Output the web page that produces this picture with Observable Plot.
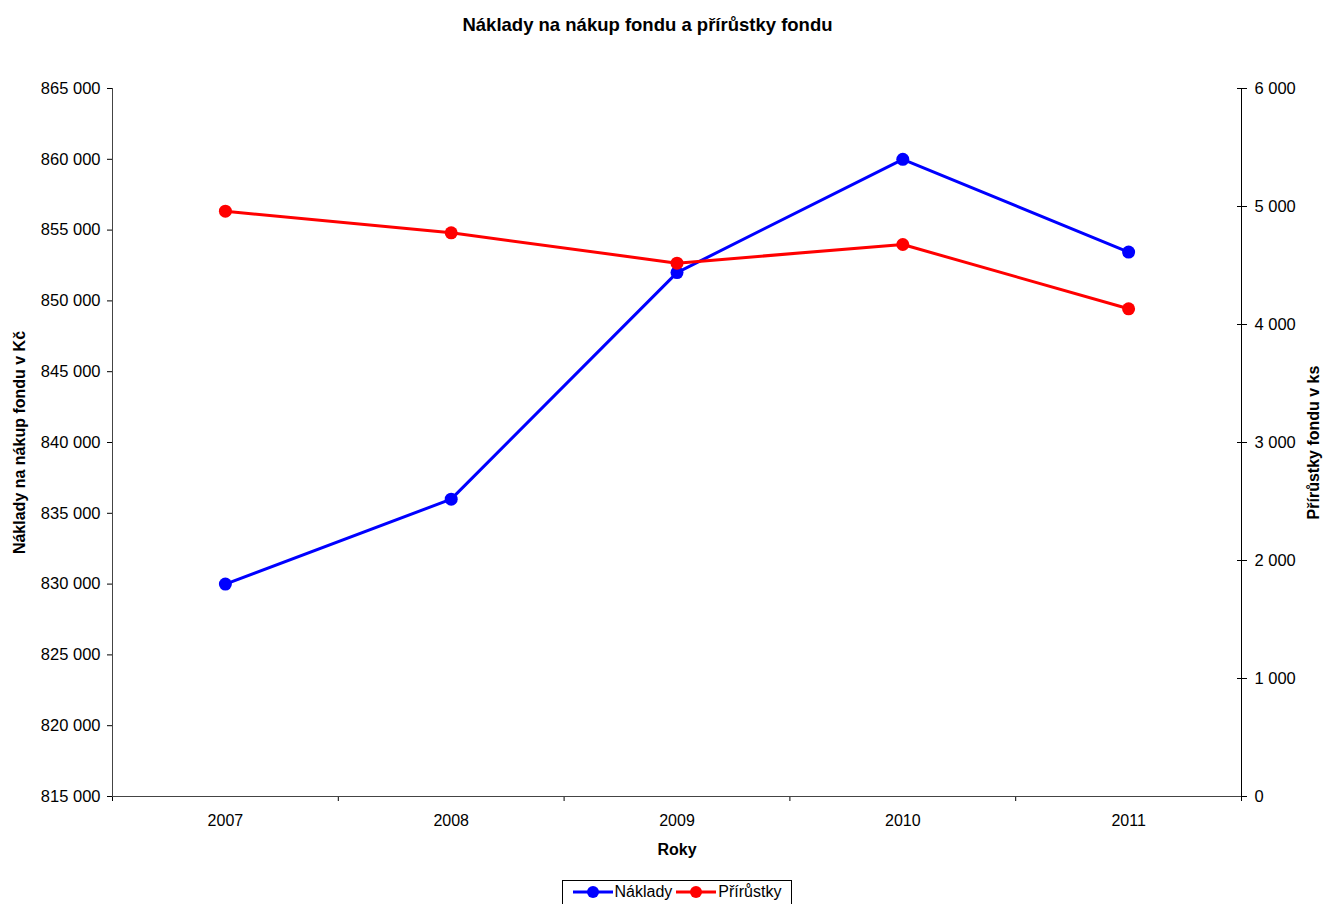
<!DOCTYPE html>
<html>
<head>
<meta charset="utf-8">
<script src="https://cdn.jsdelivr.net/npm/d3@7"></script>
<script src="https://cdn.jsdelivr.net/npm/@observablehq/plot@0.6"></script>
<style>
  body { margin: 0; background: #fff; font-family: "Liberation Sans", Arial, sans-serif; }
  #title { height: 50px; line-height: 50px; text-align: center; font-weight: bold; font-size: 18.5px; color: #000; padding-right: 30px; }
  #legend { position: absolute; left: 562px; top: 880px; width: 230px; height: 30px; border: 1px solid #000; box-sizing: border-box; display: flex; align-items: flex-start; justify-content: center; font-size: 16px; padding-top: 2px; }
  #legend .item { display: flex; align-items: center; margin: 0 2px; }
  #legend svg { margin-right: 2px; }
</style>
</head>
<body>
<div id="title">Náklady na nákup fondu a přírůstky fondu</div>
<div id="chart"></div>
<div id="legend"></div>
<script>
const years = [2007, 2008, 2009, 2010, 2011];
const naklady = [830000, 836000, 852000, 860000, 853450];
const prirustky = [4960, 4777, 4520, 4678, 4133];
const leftTicks = [815000, 820000, 825000, 830000, 835000, 840000, 845000, 850000, 855000, 860000, 865000];
const rightTicks = [0, 1000, 2000, 3000, 4000, 5000, 6000];
const seriesNames = ["Náklady", "Přírůstky"];
const seriesColors = ["#0000ff", "#ff0000"];

const yMin = 815000, yMax = 865000, rMax = 6000;
const toLeft = v => yMin + v / rMax * (yMax - yMin);
const toRight = v => (v - yMin) / (yMax - yMin) * rMax;
const fmt = v => d3.format(",")(Math.round(v)).replace(/,/g, " ");

const blue = years.map((y, i) => ({year: y, value: naklady[i]}));
const red = years.map((y, i) => ({year: y, value: toLeft(prirustky[i])}));

const font = "Liberation Sans, Arial, sans-serif";

const chart = Plot.plot({
  width: 1325,
  height: 820,
  marginLeft: 112,
  marginRight: 84,
  marginTop: 38,
  marginBottom: 74,
  style: {fontFamily: font, fontSize: "16px", color: "#000", background: "#fff"},
  x: {domain: [2006.5, 2011.5]},
  y: {domain: [yMin, yMax]},
  marks: [
    Plot.axisY({ticks: leftTicks, tickFormat: fmt, tickSize: 5, tickPadding: 7, label: null, fontSize: 16.5}),
    Plot.axisY({anchor: "right", ticks: rightTicks.map(toLeft), tickFormat: () => "", tickSize: 10, dx: -5, label: null}),
    Plot.axisY({anchor: "right", ticks: rightTicks.map(toLeft), tickFormat: d => fmt(toRight(d)), tickSize: 0, tickPadding: 13, label: null, fontSize: 16.5}),
    Plot.axisX({ticks: years, tickFormat: d => String(d), tickSize: 0, tickPadding: 18, label: null, fontSize: 16}),
    Plot.axisX({ticks: [2006.5, 2007.5, 2008.5, 2009.5, 2010.5, 2011.5], tickFormat: () => "", tickSize: 5, label: null}),
    Plot.ruleX([2006.5], {stroke: "#444", strokeWidth: 1}),
    Plot.ruleX([2011.5], {stroke: "#000", strokeWidth: 1}),
    Plot.ruleY([yMin], {stroke: "#444", strokeWidth: 1}),
    Plot.line(blue, {x: "year", y: "value", stroke: seriesColors[0], strokeWidth: 3}),
    Plot.dot(blue, {x: "year", y: "value", fill: seriesColors[0], r: 6.5}),
    Plot.line(red, {x: "year", y: "value", stroke: seriesColors[1], strokeWidth: 3}),
    Plot.dot(red, {x: "year", y: "value", fill: seriesColors[1], r: 6.5}),
    Plot.text(["Roky"], {frameAnchor: "bottom", dy: 58, fontWeight: "bold", fontSize: 16}),
    Plot.text(["Náklady na nákup fondu v Kč"], {frameAnchor: "left", dx: -93, rotate: -90, textAnchor: "middle", fontWeight: "bold", fontSize: 16}),
    Plot.text(["Přírůstky fondu v ks"], {frameAnchor: "right", dx: 72, rotate: -90, textAnchor: "middle", fontWeight: "bold", fontSize: 16})
  ]
});
document.getElementById("chart").appendChild(chart);

const legend = document.getElementById("legend");
seriesNames.forEach((name, i) => {
  const item = document.createElement("div");
  item.className = "item";
  item.innerHTML = `<svg width="40" height="14"><line x1="0" y1="7" x2="40" y2="7" stroke="${seriesColors[i]}" stroke-width="3"/><circle cx="20" cy="7" r="6" fill="${seriesColors[i]}"/></svg><span>${name}</span>`;
  legend.appendChild(item);
});
</script>
</body>
</html>
